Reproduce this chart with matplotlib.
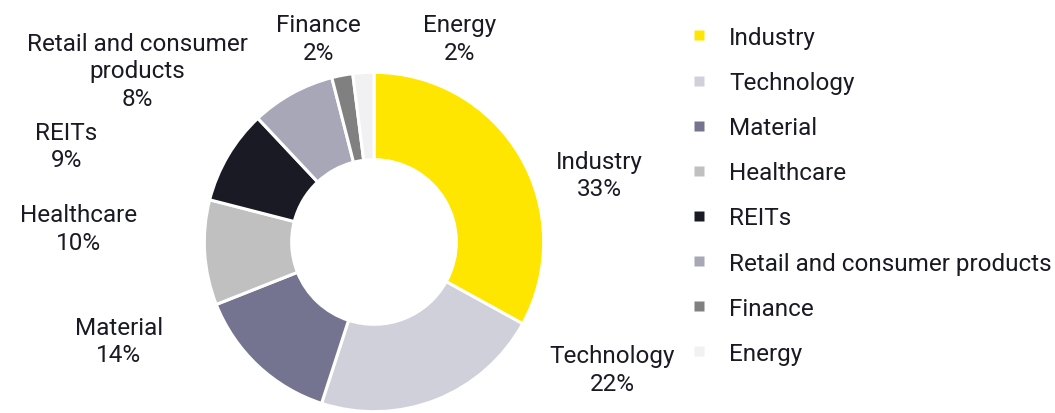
import matplotlib.pyplot as plt
from matplotlib.lines import Line2D

# Sector split of the portfolio
sectors = ['Industry', 'Technology', 'Material', 'Healthcare', 'REITs',
           'Retail and consumer products', 'Finance', 'Energy']
shares = [33, 22, 14, 10, 9, 8, 2, 2]
colors = ['#FFE600', '#D0D0DA', '#747490', '#C0C0C0', '#1A1A24',
          '#A7A7B8', '#808080', '#F1F1F3']
# wrapped text for the labels around the ring
ring_labels = ['Industry', 'Technology', 'Material', 'Healthcare', 'REITs',
               'Retail and consumer\nproducts', 'Finance', 'Energy']
# where each label sits, in units of the ring radius
label_pos = [(1.34, 0.40), (1.42, -0.76), (-1.52, -0.59), (-1.76, 0.08),
             (-1.83, 0.57), (-1.41, 1.02), (-0.33, 1.21), (0.51, 1.21)]

plt.rcParams['font.family'] = ['Roboto', 'DejaVu Sans']
txt_color = '#1A1A24'
fs = 17.5

fig = plt.figure(figsize=(10.55, 4.14), dpi=100)
ax = fig.add_axes([0, 0, 1, 1])

wedges, _ = ax.pie(shares, colors=colors, startangle=90, counterclock=False,
                   radius=1.01,
                   wedgeprops=dict(width=0.52, edgecolor='white', linewidth=2.2))

for lab, val, (x, y) in zip(ring_labels, shares, label_pos):
    ax.text(x, y, f'{lab}\n{val}%', ha='center', va='center', fontsize=fs,
            color=txt_color, linespacing=1.25)

# pixel-matched limits: one radius is 168 px
ax.set_xlim(-374 / 168, (1055 - 374) / 168)
ax.set_ylim(-171 / 168, 243 / 168)
ax.set_aspect('equal')
ax.axis('off')

handles = [Line2D([], [], marker='s', linestyle='none', markersize=6.5,
                  markerfacecolor=c, markeredgecolor='none') for c in colors]
fig.legend(handles, sectors, loc='upper left', bbox_to_anchor=(0.656, 0.935),
           frameon=False, fontsize=fs, labelspacing=0.91, handlelength=0.6,
           handletextpad=0.92, borderpad=0, borderaxespad=0,
           labelcolor=txt_color)

fig.savefig('out.png', dpi=100, facecolor='white')
